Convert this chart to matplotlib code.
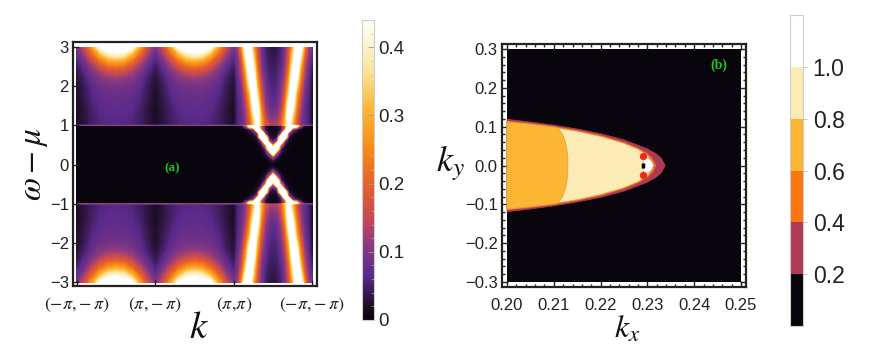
import numpy as np
import matplotlib
matplotlib.use("Agg")
import matplotlib.pyplot as plt
from matplotlib.colors import LinearSegmentedColormap, Normalize, ListedColormap, BoundaryNorm
from matplotlib.cm import ScalarMappable
from matplotlib.ticker import MultipleLocator

plt.rcParams['font.family'] = ['Liberation Sans', 'DejaVu Sans']
plt.rcParams['mathtext.fontset'] = 'stix'

# ---------- panel (a): spectral weight ----------
omega_rows = [3.0, 2.8, 2.6, 2.4, 2.2, 2.0, 1.8, 1.6, 1.4, 1.2, 1.015, 1.0, 0.985,
              0.9, 0.8, 0.7, 0.6, 0.5, 0.4, 0.3, 0.2, 0.1, 0.0]
lobe_k = [0.0, 0.1, 0.2, 0.3, 0.4, 0.5]
lobe_values = [
    [.09, .16, .28, .44, .48, .50],
    [.07, .12, .20, .30, .38, .40],
    [.05, .085, .14, .20, .25, .27],
    [.035, .065, .10, .135, .16, .17],
    [.028, .05, .08, .10, .11, .115],
    [.022, .042, .068, .085, .09, .09],
    [.02, .04, .062, .075, .08, .08],
    [.02, .036, .056, .068, .074, .076],
    [.018, .032, .05, .064, .068, .07],
    [.018, .032, .048, .06, .065, .065],
    [.018, .03, .046, .056, .06, .062],
    [.10, .12, .11, .13, .11, .12],
    [.004, .004, .004, .004, .004, .004],
    [.003, .003, .003, .003, .003, .003],
    [.003, .003, .003, .003, .003, .003],
    [.003, .003, .003, .003, .003, .003],
    [.003, .003, .003, .003, .003, .003],
    [.003, .003, .003, .003, .003, .003],
    [.003, .003, .003, .003, .003, .003],
    [.003, .003, .003, .003, .003, .003],
    [.003, .003, .003, .003, .003, .003],
    [.003, .003, .003, .003, .003, .003],
    [.003, .003, .003, .003, .003, .003],
]
vee_k = [2.05, 2.10, 2.15, 2.20, 2.25, 2.30, 2.35, 2.40, 2.45, 2.50]
vee_values = [
    [.12, .26, .50, .50, .28, .16, .09, .05, .035, .03],
    [.10, .20, .42, .55, .34, .17, .09, .055, .04, .035],
    [.09, .16, .34, .56, .38, .19, .10, .06, .045, .04],
    [.08, .14, .28, .52, .45, .22, .11, .07, .05, .045],
    [.07, .12, .24, .46, .50, .26, .13, .08, .055, .05],
    [.065, .10, .20, .38, .56, .30, .15, .09, .06, .055],
    [.06, .09, .16, .30, .54, .36, .17, .10, .07, .06],
    [.055, .08, .14, .26, .48, .42, .20, .11, .08, .07],
    [.055, .075, .12, .22, .42, .48, .24, .13, .09, .08],
    [.055, .07, .11, .19, .34, .50, .28, .15, .11, .10],
    [.055, .07, .10, .17, .30, .46, .30, .18, .14, .13],
    [.10, .12, .16, .28, .42, .46, .34, .12, .05, .03],
    [.006, .02, .12, .50, .60, .50, .15, .03, .01, .01],
    [.004, .006, .015, .04, .10, .80, .18, .03, .012, .01],
    [.003, .004, .006, .012, .03, .10, .80, .08, .015, .012],
    [.003, .003, .004, .006, .01, .03, .60, .55, .03, .025],
    [.003, .003, .003, .004, .007, .015, .08, .80, .12, .04],
    [.003, .003, .003, .003, .005, .008, .025, .20, .70, .15],
    [.003, .003, .003, .003, .004, .006, .012, .05, .55, .50],
    [.003, .003, .003, .003, .003, .004, .008, .025, .14, .65],
    [.003, .003, .003, .003, .003, .003, .004, .01, .04, .14],
    [.003, .003, .003, .003, .003, .003, .003, .004, .01, .03],
    [.003, .003, .003, .003, .003, .003, .003, .003, .004, .006],
]
spectrum_stops = [0.0, 0.025, 0.065, 0.11, 0.15, 0.20, 0.25, 0.31, 0.37, 0.44]
spectrum_colors = ['#050308', '#241030', '#5a2a8c', '#8a3a80', '#c84a50', '#e8602a',
                   '#f88a14', '#fcb632', '#fde6a0', '#ffffff']
x_tick_pos = [0, 1, 2, 3]
x_tick_labels = [r'$(-\pi,\!-\pi)$', r'$(\pi,\!-\pi)$', r'$(\pi,\!\pi)$', r'$(-\pi,\!-\pi)$']
w_ticks = [-3, -2, -1, 0, 1, 2, 3]
w_tick_labels = ['\u22123', '\u22122', '\u22121', '0', '1', '2', '3']
cb_a_ticks = [0, .1, .2, .3, .4]
cb_a_labels = ['0', '0.1', '0.2', '0.3', '0.4']

# ---------- panel (b): contour boundaries ----------
outer_kx = [.20, .205, .21, .215, .22, .225, .23, .232, .233, .2338]
outer_ky = [.119, .112, .104, .094, .082, .066, .043, .029, .018, 0]
band_kx = [.20, .205, .21, .215, .22, .225, .228, .230, .231, .2318]
band_ky = [.114, .108, .100, .090, .077, .059, .044, .030, .018, 0]
amber_kx = [.20, .205, .21, .215, .22, .225, .228, .230, .2306, .2312]
amber_ky = [.112, .106, .098, .088, .075, .057, .042, .027, .016, 0]
arc_ky = [.112, .106, .098, .08, .06, .04, .02, 0]
arc_kx = [.20, .205, .2108, .2119, .2125, .2128, .2130, .2130]
tip_kx = [.2291, .2298, .2305, .2310, .2313]
tip_ky = [.0225, .020, .016, .010, 0]
red_kx = [.2291, .2291]
red_ky = [.0235, -.0235]
bar_kx = [.2291, .2291]
bar_ky = [-.006, .006]
kx_ticks = [.20, .21, .22, .23, .24, .25]
ky_ticks = [-.3, -.2, -.1, 0, .1, .2, .3]
ky_labels = ['\u22120.3', '\u22120.2', '\u22120.1', '0.0', '0.1', '0.2', '0.3']
cb_b_levels = [0, .2, .4, .6, .8, 1.0, 1.2]
cb_b_colors = ['#08050c', '#b03a55', '#fb7510', '#fdb534', '#fdebb5', '#ffffff']
cb_b_ticks = [.2, .4, .6, .8, 1.0]

W, H = 872, 362
def place(x0, y0, x1, y1):
    return fig.add_axes([x0 / W, 1 - y1 / H, (x1 - x0) / W, (y1 - y0) / H])

fig = plt.figure(figsize=(W / 100, H / 100), dpi=100, facecolor='white')
FRAME = '#222222'

# ---------- (a) ----------
ax = place(73, 42, 317, 286)
up_lobe = np.array(lobe_values)
up_vee = np.array(vee_values)
lobe_k_arr = np.array(lobe_k)
vee_k_arr = np.array(vee_k)
k_grid = np.concatenate([lobe_k_arr, 1 - lobe_k_arr[-2::-1],
                         1 + lobe_k_arr[1:], 2 - lobe_k_arr[-2::-1],
                         vee_k_arr, 5 - vee_k_arr[-2::-1], [3.0]])
left_col = up_lobe[:, 0:1]
quarter = np.hstack([up_lobe, up_lobe[:, -2::-1], up_lobe[:, 1:], up_lobe[:, -2::-1],
                     up_vee, up_vee[:, -2::-1], left_col])
w_arr = np.array(omega_rows)
w_grid = np.concatenate([-w_arr, w_arr[-2::-1]])
Z = np.vstack([quarter, quarter[-2::-1]])
cmap_a = LinearSegmentedColormap.from_list(
    'sunset', [(s / 0.44, c) for s, c in zip(spectrum_stops, spectrum_colors)])
cmap_a.set_over('white')
norm_a = Normalize(0, 0.44)
ax.contourf(k_grid, w_grid, Z, levels=np.linspace(0, 0.44, 177), cmap=cmap_a, norm=norm_a,
            extend='max', antialiased=False)
ax.set_xlim(-0.05, 3.06)
ax.set_ylim(-3.1, 3.13)
ax.set_xticks(x_tick_pos, x_tick_labels)
ax.set_yticks(w_ticks, w_tick_labels)
ax.tick_params(direction='in', length=4, width=1, color=FRAME, labelsize=12, labelcolor='#222222', pad=3,
               top=False, right=False)
ax.tick_params(axis='x', labelsize=13, pad=7)
for s in ax.spines.values():
    s.set_linewidth(1.6); s.set_color(FRAME)
fig.text(199 / W, 1 - 328 / H, r'$k$', fontsize=28, ha='center', va='center', color='#111111')
fig.text(34 / W, 1 - 164 / H, r'$\omega-\mu$', fontsize=24, rotation=90, ha='center', va='center', color='#111111')
ax.text(1.22, -0.1, '(a)', color='#20c020', fontsize=9.5, fontweight='bold', family='Liberation Serif',
        ha='center', va='center')

# colourbar (a)
cax = place(362, 20, 374, 320)
cb = fig.colorbar(ScalarMappable(norm=norm_a, cmap=cmap_a), cax=cax)
cb.set_ticks(cb_a_ticks, labels=cb_a_labels)
cb.ax.yaxis.set_minor_locator(MultipleLocator(0.02))
cb.ax.tick_params(which='major', direction='in', length=4, width=.6, color='#999999', labelsize=13.5, labelcolor='#222222', pad=3)
cb.ax.tick_params(which='minor', direction='in', length=2, width=.4, color='#bbbbbb')
cb.outline.set_edgecolor('#cccccc'); cb.outline.set_linewidth(.8)

# ---------- (b) ----------
bx = place(502, 44, 746, 287)
dx = 0.05 * 5 / 234
bx.set_xlim(.20 - dx, .25 + dx)
bx.set_ylim(-.3 - 5 * .6 / 234, .3 + 5 * .6 / 234)
bx.axvspan(.20, .25, ymin=5 / 243, ymax=238 / 243, color=cb_b_colors[0], lw=0, zorder=0)


def lens(kx, ky, color, edge=None, z=1):
    kx = np.array(kx); ky = np.array(ky)
    bx.fill(np.concatenate([kx, kx[-2::-1]]), np.concatenate([ky, -ky[-2::-1]]),
            facecolor=color, edgecolor=edge or color, lw=.5, zorder=z)


lens(outer_kx, outer_ky, cb_b_colors[1], z=1)
lens(band_kx, band_ky, cb_b_colors[2], z=2)
lens(amber_kx, amber_ky, cb_b_colors[4], edge='#d8a040', z=3)
lens(arc_kx, arc_ky, cb_b_colors[3], edge='#d8a040', z=4)
lens(tip_kx, tip_ky, '#ffffff', edge='#aaaaaa', z=5)
bx.plot(bar_kx, bar_ky, color='black', lw=2.5, solid_capstyle='butt', zorder=6)
bx.scatter(red_kx, red_ky, s=28, color='#ec2a1e', zorder=7, linewidths=0)
bx.set_xticks(kx_ticks, [f'{v:.2f}' for v in kx_ticks])
bx.set_yticks(ky_ticks, ky_labels)
bx.xaxis.set_minor_locator(MultipleLocator(.002))
bx.yaxis.set_minor_locator(MultipleLocator(.02))
bx.tick_params(which='major', direction='in', length=4, width=1, color=FRAME, labelsize=12, labelcolor='#222222',
               top=True, right=True, pad=3)
bx.tick_params(axis='x', which='major', pad=8)
bx.tick_params(which='minor', direction='in', length=2.5, width=1, color=FRAME, top=True, right=True)
for s in bx.spines.values():
    s.set_linewidth(1.6); s.set_color(FRAME)
fig.text(627 / W, 1 - 330 / H, r'$k_x$', fontsize=23, ha='center', va='center', color='#111111')
fig.text(450 / W, 1 - 163 / H, r'$k_y$', fontsize=26, ha='center', va='center', color='#111111')
bx.text(.2453, .259, '(b)', color='#20c020', fontsize=10, fontweight='bold', family='Liberation Serif',
        ha='center', va='center')

# colourbar (b)
dax = place(790, 15, 803, 326)
norm_b = BoundaryNorm(cb_b_levels, len(cb_b_colors))
cb2 = fig.colorbar(ScalarMappable(norm=norm_b, cmap=ListedColormap(cb_b_colors)), cax=dax, spacing='proportional')
cb2.set_ticks(cb_b_ticks, labels=[f'{v:.1f}' for v in cb_b_ticks])
cb2.minorticks_off()
cb2.ax.tick_params(direction='out', length=3, width=.6, color='#bbbbbb', labelsize=16.5, labelcolor='#222222', pad=4)
cb2.outline.set_edgecolor('#cccccc'); cb2.outline.set_linewidth(.8)

fig.savefig('out.png', dpi=100)
